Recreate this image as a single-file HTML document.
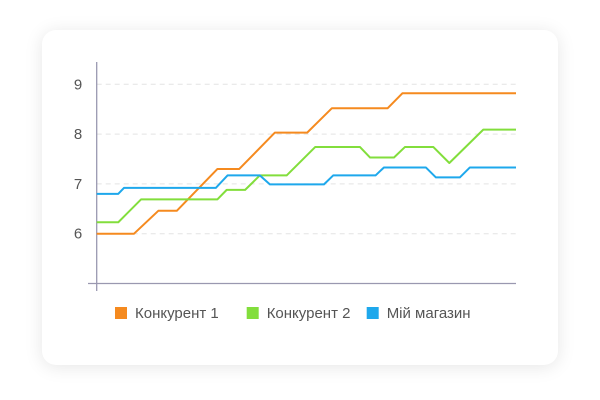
<!DOCTYPE html>
<html><head><meta charset="utf-8"><style>
body{margin:0;width:600px;height:400px;background:#fff;font-family:"Liberation Sans",sans-serif;overflow:hidden}
#card{position:absolute;left:42px;top:30px;width:516px;height:335px;background:#fff;border-radius:14px;box-shadow:0 2px 18px rgba(0,0,0,0.10)}
svg{position:absolute;left:0;top:0}
</style></head><body>
<div id="card"></div>
<svg id="chart" width="600" height="400"></svg>
<script>
const yTicks=[6,7,8,9];
const seriesNames=["Конкурент 1","Конкурент 2","Мій магазин"];
const seriesColors=["#f58a1f","#82de3c","#1ea8ec"];
const orangeX=[0,8.9,14.7,19.1,28.8,34,42.5,50.2,56.1,69.4,72.9,100];
const orangeY=[6,6,6.46,6.46,7.3,7.3,8.03,8.03,8.52,8.52,8.82,8.82];
const greenX=[0,5.15,10.6,28.8,31,35.4,38.9,45.3,52.1,62.8,65.2,70.9,73.5,80.3,84.1,92.2,100];
const greenY=[6.23,6.23,6.69,6.69,6.88,6.88,7.17,7.17,7.74,7.74,7.53,7.53,7.74,7.74,7.42,8.09,8.09];
const blueX=[0,5.15,6.5,28.4,31.2,38.9,41.3,54.2,56.4,66.5,68.5,78.5,80.9,86.6,89,100];
const blueY=[6.8,6.8,6.92,6.92,7.17,7.17,6.99,6.99,7.17,7.17,7.33,7.33,7.13,7.13,7.33,7.33];
const NS="http://www.w3.org/2000/svg";
const svg=document.getElementById('chart');
const x0=96.7,x1=516;
const X=d=>x0+d/100*(x1-x0);
const Y=v=>233.7-(v-6)*49.8;
function mk(t,a){const e=document.createElementNS(NS,t);for(const k in a)e.setAttribute(k,a[k]);svg.appendChild(e);return e;}
yTicks.forEach(v=>{
 const g=mk('line',{x1:x0,x2:x1,y1:Y(v),y2:Y(v),stroke:'#e4e4e4','stroke-dasharray':'5,4','stroke-width':1});
 
 
 const t=mk('text',{x:78,y:Y(v)+5,'text-anchor':'middle','font-size':15,fill:'#555','font-family':'Liberation Sans, sans-serif'});
 t.textContent=v;
 
 
});
const ya=mk('line',{x1:x0,x2:x0,y1:62,y2:291,stroke:'#9a98b0','stroke-width':1.3});


const xa=mk('line',{x1:88,x2:x1,y1:Y(5),y2:Y(5),stroke:'#9a98b0','stroke-width':1.3});


[[orangeX,orangeY],[greenX,greenY],[blueX,blueY]].forEach((s,i)=>{
 const p=mk('polyline',{points:s[0].map((d,j)=>X(d)+','+Y(s[1][j])).join(' '),fill:'none',stroke:seriesColors[i],'stroke-width':2,'stroke-linejoin':'round'});
 
 
});
const lx=[115,246.7,366.7];
seriesNames.forEach((n,i)=>{
 const r=mk('rect',{x:lx[i],y:307,width:12,height:12,fill:seriesColors[i]});
 
 
 const t=mk('text',{x:lx[i]+20,y:318,'font-size':15,fill:'#555','font-family':'Liberation Sans, sans-serif'});
 t.textContent=n;
 
 
});
</script>
</body></html>
